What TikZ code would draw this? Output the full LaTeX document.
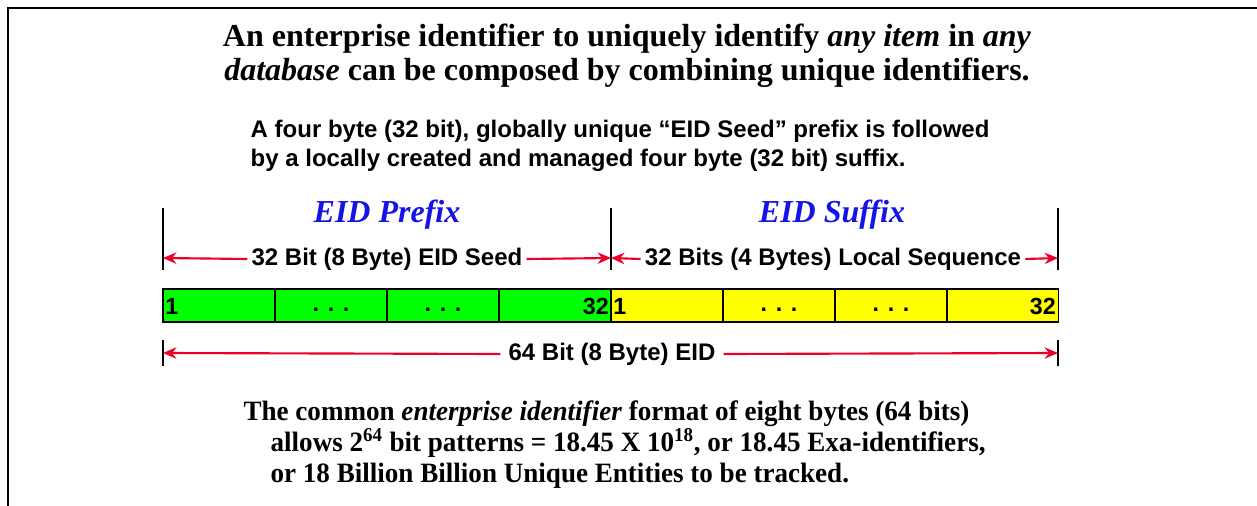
\documentclass[tikz,border=0pt]{standalone}
\usepackage{fontspec}
\setmainfont{Liberation Serif}
\setsansfont{Liberation Sans}
\usetikzlibrary{arrows.meta}
\definecolor{eidred}{RGB}{235,0,40}
\definecolor{eidblue}{RGB}{20,20,230}
\definecolor{eidgreen}{RGB}{0,255,0}
\definecolor{eidyellow}{RGB}{255,255,0}
\begin{document}
\begin{tikzpicture}[x=0.75pt,y=-0.75pt,
  frame/.style={line width=1.8pt},
  tick/.style={line width=1pt},
  redarrow/.style={draw=eidred,line width=1.6pt,-{Stealth[length=10pt,width=8.5pt]}},
  cell/.style={draw=black,line width=1pt},
  sanslbl/.style={font=\sffamily\bfseries\fontsize{18}{21}\selectfont,inner sep=3pt},
  celltxt/.style={font=\sffamily\bfseries\fontsize{17.5}{20}\selectfont,inner sep=0pt},
  parttitle/.style={font=\rmfamily\bfseries\itshape\fontsize{24}{28}\selectfont,text=eidblue},
]
\useasboundingbox (0,0) rectangle (1257,506);
% outer frame (top and left edges)
\draw[frame] (8,506) -- (8,8) -- (1257,8);

% heading
\node[font=\rmfamily\bfseries\fontsize{24}{25.5}\selectfont,align=center] (head) at (627,56)
  {An enterprise identifier to uniquely identify \textit{any item} in \textit{any}\\
   \textit{database} can be composed by combining unique identifiers.};

% sub-heading
\node[font=\sffamily\bfseries\fontsize{18}{22}\selectfont,align=left,anchor=west] (sub) at (246,146)
  {A four byte (32 bit), globally unique “EID Seed” prefix is followed\\
   by a locally created and managed four byte (32 bit) suffix.};

% part titles
\node[parttitle] (pre) at (387,215) {EID Prefix};
\node[parttitle] (suf) at (832,215) {EID Suffix};

% boundary ticks
\coordinate (tA) at (163,258);
\coordinate (tB) at (611,258);
\coordinate (tC) at (1058,258);
\draw[tick] (163,208) -- (163,270);
\draw[tick] (611,208) -- (611,270);
\draw[tick] (1058,208) -- (1058,270);

% half-width dimension arrows
\node[sanslbl] (seed) at (387,259) {32 Bit (8 Byte) EID Seed};
\node[sanslbl] (loc) at (833,259) {32 Bits (4 Bytes) Local Sequence};
\draw[redarrow] (seed.west) -- (tA);
\draw[redarrow] (seed.east) -- (tB);
\draw[redarrow] (loc.west) -- (tB);
\draw[redarrow] (loc.east) -- (tC);

% the 64 bit field
\foreach \x in {163,275,387,499}{
  \draw[cell,fill=eidgreen] (\x,289) rectangle ++(112,33);
}
\foreach \x in {611,723,835,947}{
  \draw[cell,fill=eidyellow] (\x,289) rectangle ++(111.5,33);
}
\node[celltxt,anchor=west] (g1) at (165,306) {1};
\node[celltxt] (g2) at (331,310) {. . .};
\node[celltxt] (g3) at (443,310) {. . .};
\node[celltxt,anchor=east] (g4) at (609,306) {32};
\node[celltxt,anchor=west] (y1) at (613,306) {1};
\node[celltxt] (y2) at (779,310) {. . .};
\node[celltxt] (y3) at (891,310) {. . .};
\node[celltxt,anchor=east] (y4) at (1056,306) {32};

% full-width dimension arrow
\coordinate (fA) at (163,353);
\coordinate (fB) at (1058,353);
\draw[tick] (163,340) -- (163,366);
\draw[tick] (1058,340) -- (1058,366);
\node[sanslbl,inner sep=6pt] (full) at (612,354) {64 Bit (8 Byte) EID};
\draw[redarrow] (full.west) -- (fA);
\draw[redarrow] (full.east) -- (fB);

% closing remark
\node[font=\rmfamily\bfseries\fontsize{21}{23.25}\selectfont,xscale=0.967,align=left,anchor=north west] (note) at (239,396)
  {The common \textit{enterprise identifier} format of eight bytes (64 bits)\\
   \hspace*{1em}allows 2\textsuperscript{64} bit patterns = 18.45 X 10\textsuperscript{18}, or 18.45 Exa-identifiers,\\
   \hspace*{1em}or 18 Billion Billion Unique Entities to be tracked.};
\end{tikzpicture}
\end{document}
